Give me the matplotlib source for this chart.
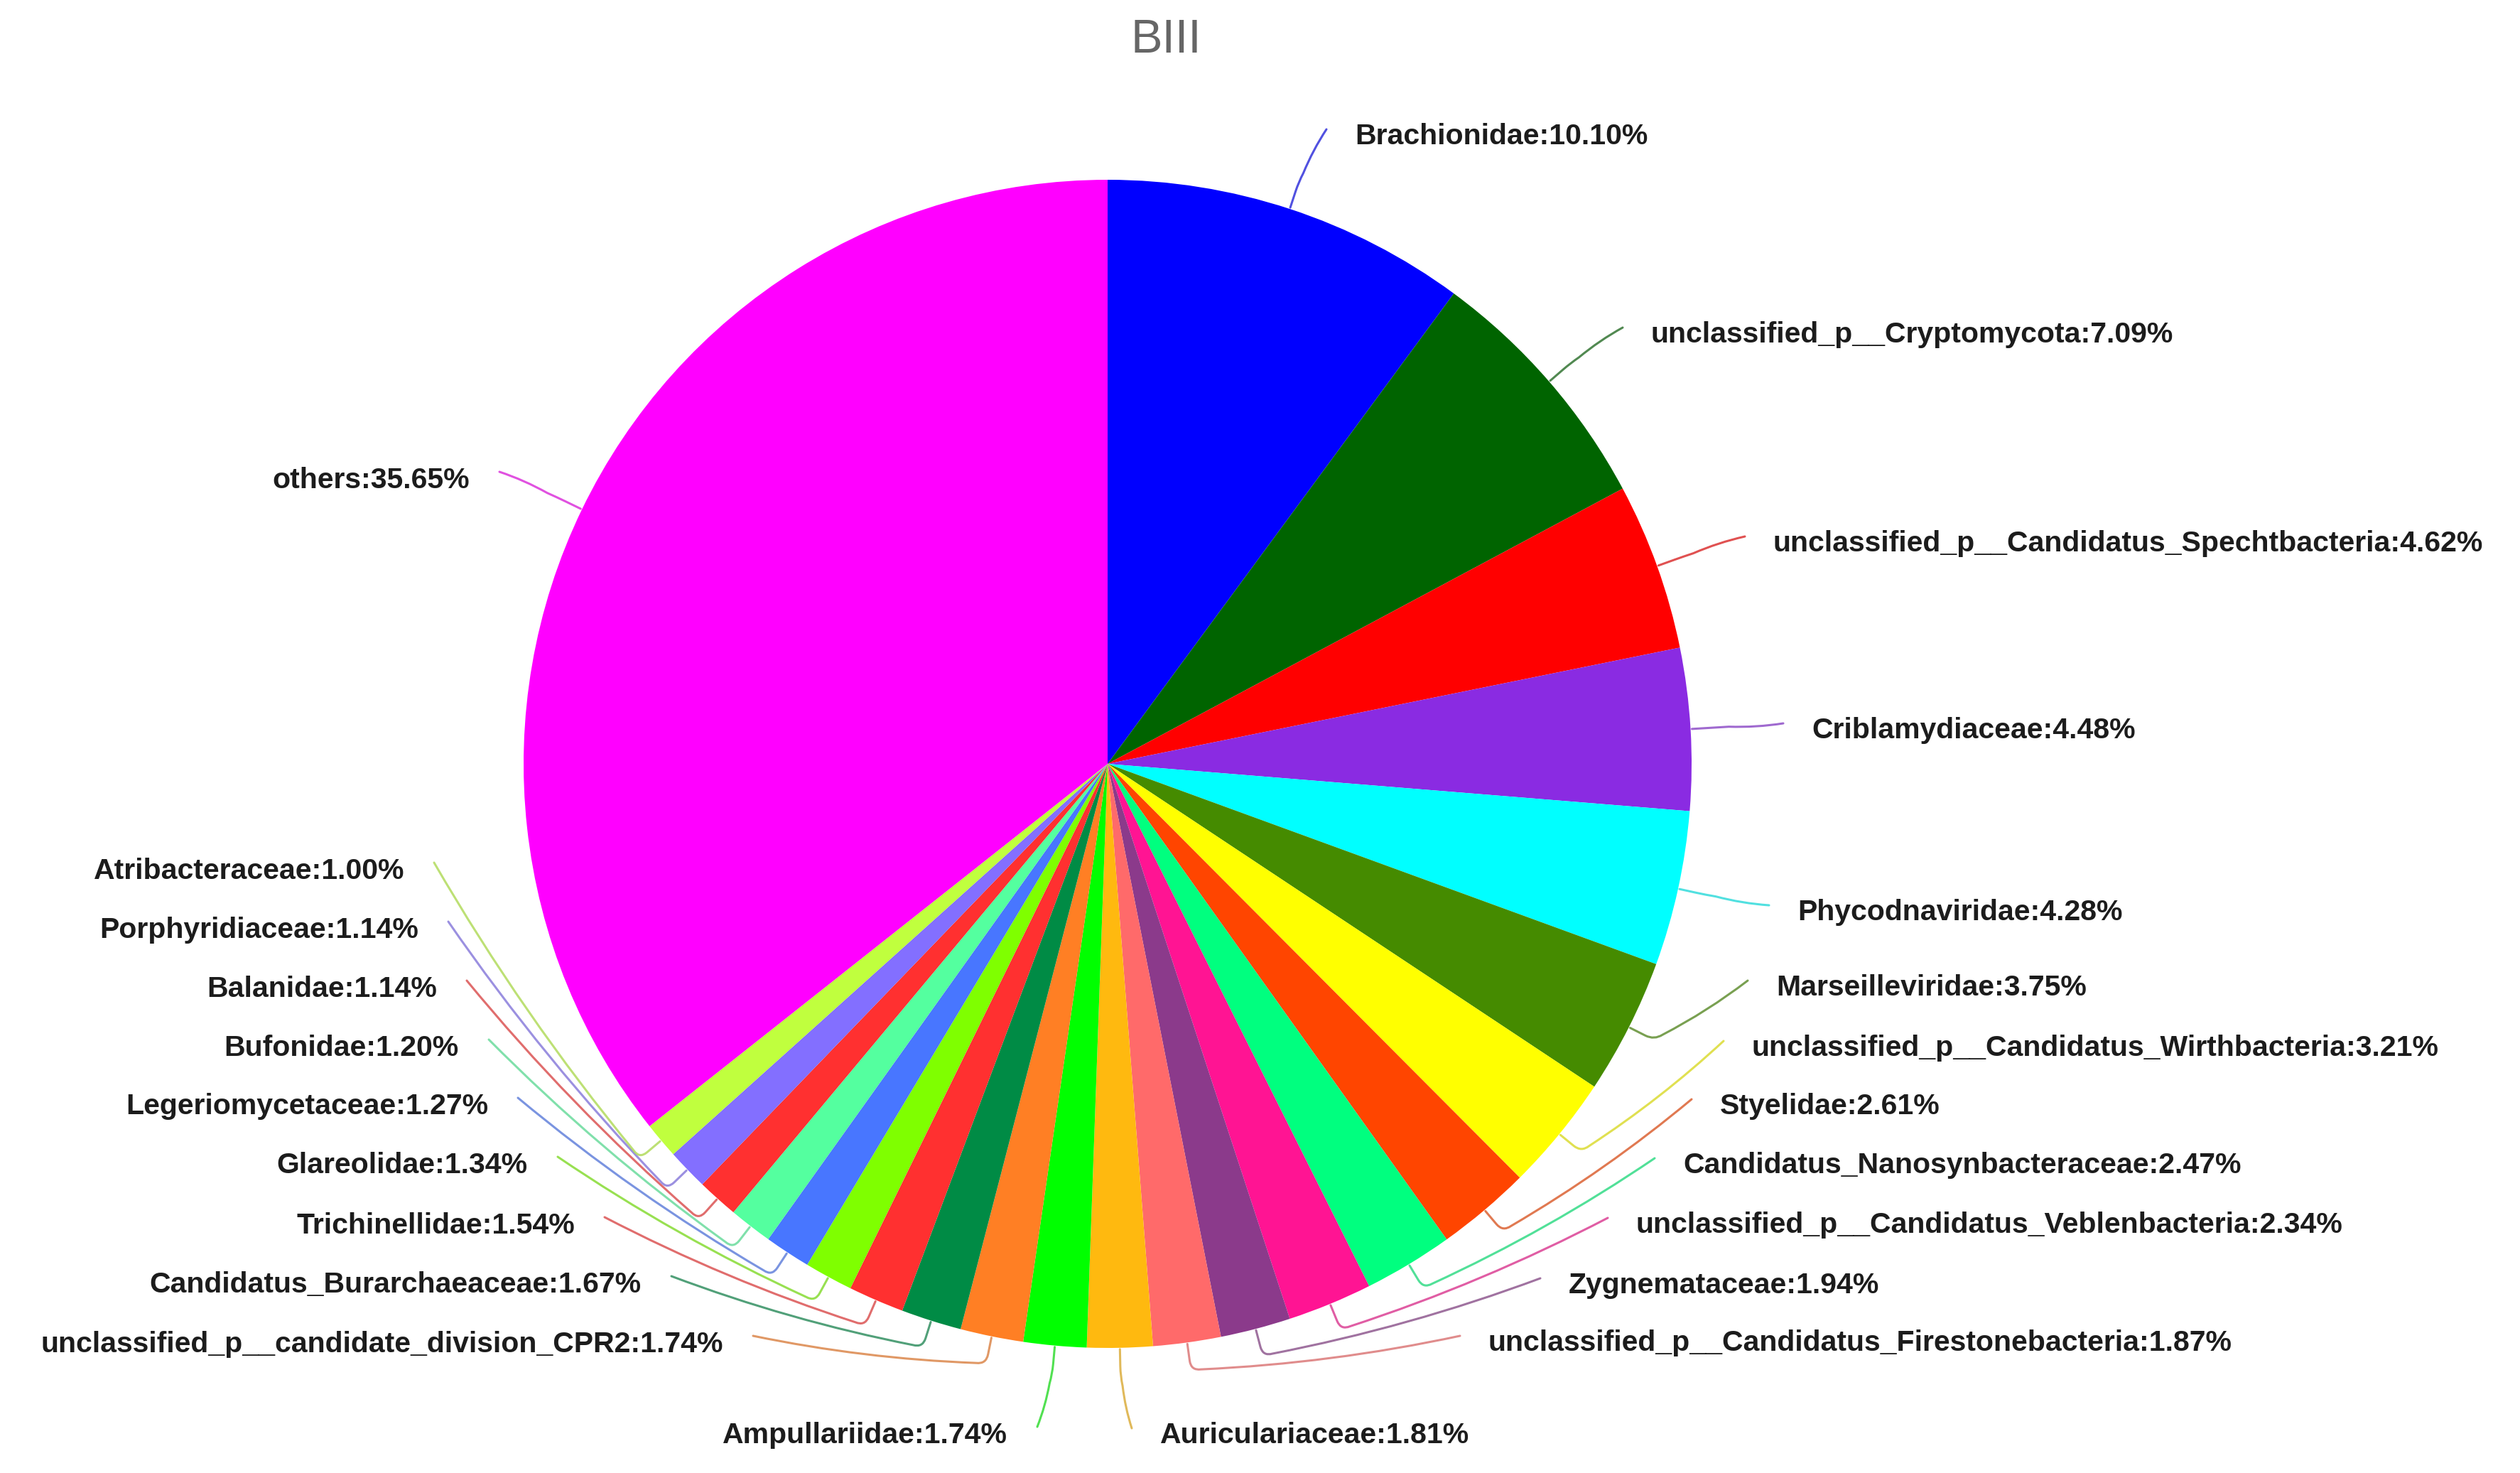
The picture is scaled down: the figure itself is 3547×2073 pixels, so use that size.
import numpy as np
import matplotlib.pyplot as plt
from matplotlib.path import Path
from matplotlib.patches import PathPatch
from matplotlib.colors import to_rgb

W, H = 3548, 2073

names = ["Brachionidae", "unclassified_p__Cryptomycota",
         "unclassified_p__Candidatus_Spechtbacteria", "Criblamydiaceae",
         "Phycodnaviridae", "Marseilleviridae",
         "unclassified_p__Candidatus_Wirthbacteria", "Styelidae",
         "Candidatus_Nanosynbacteraceae",
         "unclassified_p__Candidatus_Veblenbacteria", "Zygnemataceae",
         "unclassified_p__Candidatus_Firestonebacteria", "Auriculariaceae",
         "Ampullariidae", "unclassified_p__candidate_division_CPR2",
         "Candidatus_Burarchaeaceae", "Trichinellidae", "Glareolidae",
         "Legeriomycetaceae", "Bufonidae", "Balanidae", "Porphyridiaceae",
         "Atribacteraceae", "others"]
values = [10.10, 7.09, 4.62, 4.48, 4.28, 3.75, 3.21, 2.61, 2.47, 2.34, 1.94,
          1.87, 1.81, 1.74, 1.74, 1.67, 1.54, 1.34, 1.27, 1.20, 1.14, 1.14,
          1.00, 35.65]
colors = ["#0000FF", "#006400", "#FF0000", "#8A2BE2", "#00FFFF", "#458B00",
          "#FFFF00", "#FF4500", "#00FF7F", "#FF1493", "#8B3A8B", "#FF6A6A",
          "#FFB90F", "#00FF00", "#FF7F24", "#008B45", "#FF3030", "#7FFF00",
          "#4876FF", "#54FF9F", "#FF3030", "#836FFF", "#C0FF3E", "#FF00FF"]

# label layout in image pixels (y measured from the top)
lab_x = [1907, 2324, 2496, 2550, 2530, 2500, 2466, 2421, 2369, 2303, 2208,
         2095, 1633,
         1418, 1018, 903, 809, 743, 687, 646, 615, 589, 569, 661]
lab_y = [192, 471, 765, 1028, 1284, 1390, 1475, 1557, 1640, 1724, 1809,
         1890, 2020,
         2020, 1892, 1808, 1725, 1640, 1557, 1475, 1392, 1309, 1226, 676]
lab_side = ["r"] * 13 + ["l"] * 11

cx, cy, R = 1559, 1075, 822

fig = plt.figure(figsize=(W / 100, H / 100), dpi=100)
ax = fig.add_axes([0, 0, 1, 1])
wedges, _ = ax.pie(values, colors=colors, startangle=90, counterclock=False,
                   radius=R, center=(cx, H - cy),
                   wedgeprops=dict(linewidth=0))
ax.set_xlim(0, W)
ax.set_ylim(0, H)
ax.axis("off")

c = np.array([cx, cy], dtype=float)
for i, w in enumerate(wedges):
    t = np.deg2rad((w.theta1 + w.theta2) / 2)
    u = np.array([np.cos(t), -np.sin(t)])
    p0 = c + u * (R + 2)
    p1 = c + u * (R + 40)
    if lab_side[i] == "r":
        p2 = np.array([lab_x[i] - 40, lab_y[i] - 10], dtype=float)
    else:
        p2 = np.array([lab_x[i] + 42, lab_y[i] - 12], dtype=float)
    d2 = p2 - p1
    L2 = np.hypot(*d2)
    u2 = d2 / L2
    rc = min(14, L2 / 3)
    a = p1 - u * rc
    b = p1 + u2 * rc
    # slight outward bow on the long segment
    n = np.array([-u2[1], u2[0]])
    mid = (b + p2) / 2
    if np.dot(n, mid - c) < 0:
        n = -n
    ctrl = mid + n * 0.04 * L2
    verts = [p0, a, p1, b, ctrl, p2]
    codes = [Path.MOVETO, Path.LINETO, Path.CURVE3, Path.CURVE3,
             Path.CURVE3, Path.CURVE3]
    verts = [(v[0], H - v[1]) for v in verts]
    lc = 0.7 * np.array(to_rgb(colors[i])) + 0.3 * np.array([0.5, 0.5, 0.5])
    ax.add_patch(PathPatch(Path(verts, codes), fill=False,
                           edgecolor=lc, alpha=0.8, lw=2.2,
                           capstyle="round", joinstyle="round"))
    ax.text(lab_x[i], H - lab_y[i], f"{names[i]}:{values[i]:.2f}%",
            ha="left" if lab_side[i] == "r" else "right", va="center",
            fontsize=29.5, fontweight="bold", color="#1c1c1c",
            family=["Liberation Sans", "DejaVu Sans"])

fig.text(1641 / W, 1 - 57 / H, "BIII", ha="center", va="center",
         fontsize=48, color="#666666",
         family=["Liberation Sans Narrow", "Liberation Sans", "DejaVu Sans"])

fig.savefig("out.png", dpi=100, facecolor="white")
